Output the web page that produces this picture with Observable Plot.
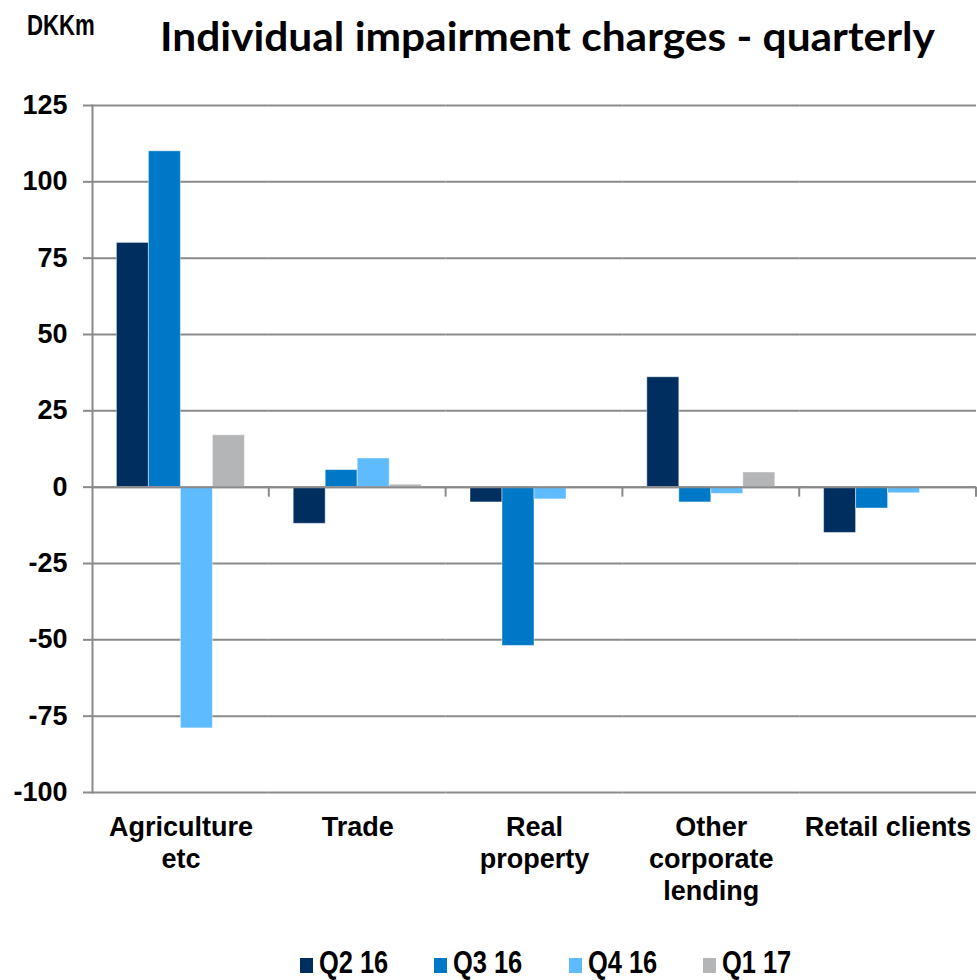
<!DOCTYPE html>
<html>
<head>
<meta charset="utf-8">
<script src="https://cdn.jsdelivr.net/npm/d3@7"></script>
<script src="https://cdn.jsdelivr.net/npm/@observablehq/plot@0.6"></script>
<style>
  html, body { margin: 0; padding: 0; background: #ffffff; }
  #page { position: relative; width: 977px; height: 980px; overflow: hidden; background: #ffffff; }
  #header { position: relative; height: 90px; }
  #unit {
    position: absolute; left: 27px; top: 10px; line-height: 1;
    font-family: "Liberation Sans", Arial, sans-serif;
    font-weight: bold; font-size: 30px; color: #000; white-space: nowrap;
    transform: scaleX(0.74); transform-origin: 0 0;
  }
  #title {
    position: absolute; left: 160px; top: 15px; line-height: 1;
    font-family: Lato, "Open Sans", sans-serif; font-weight: 700; font-size: 41px;
    color: #000; white-space: nowrap; transform-origin: 0 0;
  }
  #chart { height: 840px; }
  #chart svg { display: block; }
  #legend { position: relative; height: 50px; }
  .item { position: absolute; top: 0; height: 50px; }
  .swatch { position: absolute; top: 28px; width: 13px; height: 15px; }
  .label {
    position: absolute; top: 17px; line-height: 1; white-space: nowrap;
    font-family: "Liberation Sans", Arial, sans-serif;
    font-weight: bold; font-size: 31px; color: #000;
    transform: scaleX(0.82); transform-origin: 0 0;
  }
</style>
</head>
<body>
<div id="page">
  <div id="header">
    <div id="unit">DKKm</div>
    <div id="title">Individual impairment charges - quarterly</div>
  </div>
  <div id="chart"></div>
  <div id="legend"></div>
</div>
<script>
// Loan segments on the x axis and the label shown under each group
const categories = ["Agriculture etc", "Trade", "Real property", "Other corporate lending", "Retail clients"];
const categoryLabels = ["Agriculture\netc", "Trade", "Real\nproperty", "Other\ncorporate\nlending", "Retail clients"];

// Quarters and their colours
const quarters = ["Q2 16", "Q3 16", "Q4 16", "Q1 17"];
const quarterColors = ["#002f5f", "#0078c8", "#5fbbff", "#b4b5b7"];

// Individual impairment charges per segment, DKKm
const q2_16 = [80, -12, -5, 36, -15];
const q3_16 = [110, 5.6, -52, -5, -7];
const q4_16 = [-79, 9.4, -4, -2.2, -2];
const q1_17 = [17, 0.8, null, 4.8, null];

// Y axis ticks
const yTicks = [125, 100, 75, 50, 25, 0, -25, -50, -75, -100];

const series = [q2_16, q3_16, q4_16, q1_17];
const rows = categories.flatMap((category, i) =>
  quarters.map((quarter, j) => ({category, quarter, value: series[j][i]}))
).filter(d => d.value != null);

const labelOf = new Map(categories.map((c, i) => [c, categoryLabels[i]]));
const axisGray = "#8a8a8a";

// Small downward tick at the right edge of each segment group, on the zero line
function groupTicks(index, scales, values, dimensions) {
  const {width, marginRight} = dimensions;
  const x = width - marginRight;
  const y0 = scales.y(0);
  const g = d3.create("svg:g");
  g.append("line")
    .attr("x1", x).attr("x2", x)
    .attr("y1", y0).attr("y2", y0 + 10)
    .attr("stroke", axisGray).attr("stroke-width", 2);
  return g.node();
}

const chart = Plot.plot({
  width: 977,
  height: 840,
  marginTop: 15,
  marginBottom: 138,
  marginLeft: 92,
  marginRight: 1,
  style: {
    fontFamily: "'Liberation Sans', Arial, sans-serif",
    fontSize: "27px",
    fontWeight: "bold",
    color: "#000",
    background: "#ffffff"
  },
  fx: {domain: categories, padding: 0, round: false, label: null},
  x: {domain: quarters, paddingInner: 0, paddingOuter: 0.7625, round: false, axis: null},
  y: {domain: [-100, 125], label: null},
  color: {domain: quarters, range: quarterColors},
  marks: [
    Plot.gridY(yTicks, {stroke: axisGray, strokeOpacity: 1, strokeWidth: 2}),
    Plot.barY(rows, {
      fx: "category", x: "quarter", y1: 0, y2: "value", fill: "quarter",
      stroke: "#ffffff", strokeOpacity: 0.45, strokeWidth: 1
    }),
    Plot.ruleY([0], {stroke: axisGray, strokeWidth: 2}),
    groupTicks,
    Plot.frame({anchor: "left", facetAnchor: "left", stroke: axisGray, strokeWidth: 2}),
    Plot.axisY(yTicks, {
      anchor: "left", tickSize: 9, tickPadding: 16, stroke: axisGray, strokeWidth: 2,
      tickFormat: d => String(d), label: null
    }),
    Plot.axisFx({
      anchor: "bottom", tickSize: 0, tickPadding: 21, lineHeight: 1.185,
      tickFormat: c => labelOf.get(c), label: null
    })
  ]
});
document.getElementById("chart").append(chart);

// Legend below the chart
const legend = document.getElementById("legend");
let left = 300;
quarters.forEach((q, i) => {
  const item = document.createElement("div");
  item.className = "item";
  item.style.left = left + "px";
  const sw = document.createElement("div");
  sw.className = "swatch";
  sw.style.background = quarterColors[i];
  const lb = document.createElement("div");
  lb.className = "label";
  lb.style.left = "19px";
  lb.textContent = q;
  item.append(sw, lb);
  legend.append(item);
  left += 19 + lb.getBoundingClientRect().width + 46;
});

// Fit the title to its line
const title = document.getElementById("title");
const w = title.getBoundingClientRect().width;
title.style.transform = `scaleX(${775 / w})`;
</script>
</body>
</html>
